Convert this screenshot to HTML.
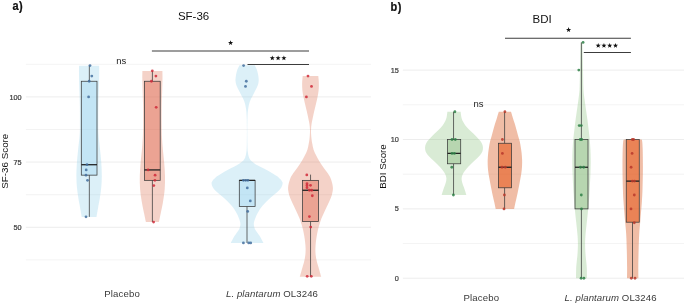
<!DOCTYPE html>
<html><head><meta charset="utf-8"><title>Figure</title>
<style>
html,body{margin:0;padding:0;background:#fff;}
svg{display:block;}
text{filter:grayscale(1);}
text{font-family:"Liberation Sans",sans-serif;}
.tick{font-size:7.3px;fill:#3d3d3d;stroke:#3d3d3d;stroke-width:0.22px;}
.title{font-size:11.5px;fill:#111;}
.tag{font-size:12.2px;font-weight:bold;fill:#111;stroke:#111;stroke-width:0.25px;letter-spacing:0.5px;}
.atitle{font-size:9.8px;fill:#111;}
.xl{font-size:9.6px;fill:#3a3a3a;letter-spacing:0.15px;}
.xl2{letter-spacing:0.1px;}
.ns{font-size:9.5px;fill:#222;}
.star{font-size:14.5px;fill:#111;}
</style></head><body>
<svg width="685" height="305" viewBox="0 0 685 305">
<rect width="685" height="305" fill="#fff"/>
<line x1="25.9" x2="370.9" y1="64.30" y2="64.30" stroke="#ebebeb" stroke-width="0.6"/>
<line x1="25.9" x2="370.9" y1="96.90" y2="96.90" stroke="#ebebeb" stroke-width="0.9"/>
<line x1="25.9" x2="370.9" y1="129.50" y2="129.50" stroke="#ebebeb" stroke-width="0.6"/>
<line x1="25.9" x2="370.9" y1="162.10" y2="162.10" stroke="#ebebeb" stroke-width="0.9"/>
<line x1="25.9" x2="370.9" y1="194.70" y2="194.70" stroke="#ebebeb" stroke-width="0.6"/>
<line x1="25.9" x2="370.9" y1="227.30" y2="227.30" stroke="#ebebeb" stroke-width="0.9"/>
<line x1="25.9" x2="370.9" y1="259.90" y2="259.90" stroke="#ebebeb" stroke-width="0.6"/>
<line x1="402.9" x2="684" y1="70.12" y2="70.12" stroke="#ebebeb" stroke-width="0.9"/>
<line x1="402.9" x2="684" y1="104.81" y2="104.81" stroke="#ebebeb" stroke-width="0.6"/>
<line x1="402.9" x2="684" y1="139.50" y2="139.50" stroke="#ebebeb" stroke-width="0.9"/>
<line x1="402.9" x2="684" y1="174.19" y2="174.19" stroke="#ebebeb" stroke-width="0.6"/>
<line x1="402.9" x2="684" y1="208.88" y2="208.88" stroke="#ebebeb" stroke-width="0.9"/>
<line x1="402.9" x2="684" y1="243.56" y2="243.56" stroke="#ebebeb" stroke-width="0.6"/>
<line x1="402.9" x2="684" y1="278.25" y2="278.25" stroke="#ebebeb" stroke-width="0.9"/>
<text x="21.7" y="99.50" text-anchor="end" class="tick">100</text>
<text x="21.7" y="164.70" text-anchor="end" class="tick">75</text>
<text x="21.7" y="229.90" text-anchor="end" class="tick">50</text>
<text x="398.8" y="72.72" text-anchor="end" class="tick">15</text>
<text x="398.8" y="142.10" text-anchor="end" class="tick">10</text>
<text x="398.8" y="211.47" text-anchor="end" class="tick">5</text>
<text x="398.8" y="280.85" text-anchor="end" class="tick">0</text>
<path d="M99.10,65.80 C99.12,66.83 99.22,68.80 99.20,72.00 C99.18,75.20 99.13,79.67 99.00,85.00 C98.87,90.33 98.52,98.17 98.40,104.00 C98.28,109.83 98.28,115.00 98.30,120.00 C98.32,125.00 98.20,129.00 98.50,134.00 C98.80,139.00 99.63,145.17 100.10,150.00 C100.57,154.83 101.02,158.67 101.30,163.00 C101.58,167.33 101.80,172.00 101.80,176.00 C101.80,180.00 101.60,183.50 101.30,187.00 C101.00,190.50 100.53,193.55 100.00,197.00 C99.47,200.45 98.68,204.38 98.10,207.70 C97.52,211.02 96.77,215.37 96.50,216.90 L81.70,216.90 C81.43,215.37 80.68,211.02 80.10,207.70 C79.52,204.38 78.73,200.45 78.20,197.00 C77.67,193.55 77.20,190.50 76.90,187.00 C76.60,183.50 76.40,180.00 76.40,176.00 C76.40,172.00 76.62,167.33 76.90,163.00 C77.18,158.67 77.63,154.83 78.10,150.00 C78.57,145.17 79.40,139.00 79.70,134.00 C80.00,129.00 79.88,125.00 79.90,120.00 C79.92,115.00 79.92,109.83 79.80,104.00 C79.68,98.17 79.33,90.33 79.20,85.00 C79.07,79.67 79.02,75.20 79.00,72.00 C78.98,68.80 79.08,66.83 79.10,65.80 Z" fill="#8acde8" fill-opacity="0.3"/>
<line x1="89.35" x2="89.35" y1="65.60" y2="81.25" stroke="#3a3a3a" stroke-width="0.75"/><line x1="89.35" x2="89.35" y1="175.14" y2="216.87" stroke="#3a3a3a" stroke-width="0.75"/><rect x="81.30" y="81.25" width="15.70" height="93.89" fill="#aadaf2" fill-opacity="0.5" stroke="#3a3a3a" stroke-width="0.75"/><line x1="81.30" x2="97.00" y1="164.71" y2="164.71" stroke="#222" stroke-width="1.3"/>
<circle cx="90.00" cy="65.60" r="1.4" fill="#44709f" fill-opacity="0.85"/><circle cx="91.80" cy="76.04" r="1.4" fill="#44709f" fill-opacity="0.85"/><circle cx="89.20" cy="81.25" r="1.4" fill="#44709f" fill-opacity="0.85"/><circle cx="88.60" cy="96.90" r="1.4" fill="#44709f" fill-opacity="0.85"/><circle cx="87.00" cy="164.71" r="1.4" fill="#44709f" fill-opacity="0.85"/><circle cx="86.20" cy="169.92" r="1.4" fill="#44709f" fill-opacity="0.85"/><circle cx="86.00" cy="175.14" r="1.4" fill="#44709f" fill-opacity="0.85"/><circle cx="87.50" cy="180.36" r="1.4" fill="#44709f" fill-opacity="0.85"/><circle cx="86.00" cy="216.87" r="1.4" fill="#44709f" fill-opacity="0.85"/>
<path d="M162.40,70.90 C162.42,72.08 162.53,74.82 162.50,78.00 C162.47,81.18 162.33,85.17 162.20,90.00 C162.07,94.83 161.78,101.17 161.70,107.00 C161.62,112.83 161.65,119.83 161.70,125.00 C161.75,130.17 161.80,133.83 162.00,138.00 C162.20,142.17 162.53,145.83 162.90,150.00 C163.27,154.17 163.85,158.67 164.20,163.00 C164.55,167.33 164.92,171.67 165.00,176.00 C165.08,180.33 165.05,184.58 164.70,189.00 C164.35,193.42 163.55,198.50 162.90,202.50 C162.25,206.50 161.47,209.73 160.80,213.00 C160.13,216.27 159.22,220.58 158.90,222.10 L145.90,222.10 C145.58,220.58 144.67,216.27 144.00,213.00 C143.33,209.73 142.55,206.50 141.90,202.50 C141.25,198.50 140.45,193.42 140.10,189.00 C139.75,184.58 139.72,180.33 139.80,176.00 C139.88,171.67 140.25,167.33 140.60,163.00 C140.95,158.67 141.53,154.17 141.90,150.00 C142.27,145.83 142.60,142.17 142.80,138.00 C143.00,133.83 143.05,130.17 143.10,125.00 C143.15,119.83 143.18,112.83 143.10,107.00 C143.02,101.17 142.73,94.83 142.60,90.00 C142.47,85.17 142.33,81.18 142.30,78.00 C142.27,74.82 142.38,72.08 142.40,70.90 Z" fill="#da6948" fill-opacity="0.3"/>
<line x1="152.40" x2="152.40" y1="70.82" y2="81.25" stroke="#3a3a3a" stroke-width="0.75"/><line x1="152.40" x2="152.40" y1="180.36" y2="222.08" stroke="#3a3a3a" stroke-width="0.75"/><rect x="144.40" y="81.25" width="15.80" height="99.10" fill="#e2745e" fill-opacity="0.5" stroke="#3a3a3a" stroke-width="0.75"/><line x1="144.40" x2="160.20" y1="169.92" y2="169.92" stroke="#222" stroke-width="1.3"/>
<circle cx="152.30" cy="70.82" r="1.4" fill="#d02a3a" fill-opacity="0.85"/><circle cx="155.90" cy="76.04" r="1.4" fill="#d02a3a" fill-opacity="0.85"/><circle cx="151.40" cy="81.25" r="1.4" fill="#d02a3a" fill-opacity="0.85"/><circle cx="156.20" cy="107.33" r="1.4" fill="#d02a3a" fill-opacity="0.85"/><circle cx="148.10" cy="169.92" r="1.4" fill="#d02a3a" fill-opacity="0.85"/><circle cx="155.10" cy="175.14" r="1.4" fill="#d02a3a" fill-opacity="0.85"/><circle cx="154.90" cy="180.36" r="1.4" fill="#d02a3a" fill-opacity="0.85"/><circle cx="153.80" cy="185.57" r="1.4" fill="#d02a3a" fill-opacity="0.85"/><circle cx="153.60" cy="222.08" r="1.4" fill="#d02a3a" fill-opacity="0.85"/>
<path d="M254.70,65.30 C255.07,66.05 256.30,68.07 256.90,69.80 C257.50,71.53 258.00,73.88 258.30,75.70 C258.60,77.52 258.80,79.05 258.70,80.70 C258.60,82.35 258.27,83.97 257.70,85.60 C257.13,87.23 256.12,88.87 255.30,90.50 C254.48,92.13 253.57,93.92 252.80,95.40 C252.03,96.88 251.28,98.08 250.70,99.40 C250.12,100.72 249.73,101.67 249.30,103.30 C248.87,104.93 248.40,106.92 248.10,109.20 C247.80,111.48 247.63,113.53 247.50,117.00 C247.37,120.47 247.32,125.50 247.30,130.00 C247.28,134.50 247.32,140.37 247.40,144.00 C247.48,147.63 247.52,149.52 247.80,151.80 C248.08,154.08 248.40,156.07 249.10,157.70 C249.80,159.33 250.53,160.28 252.00,161.60 C253.47,162.92 255.60,164.28 257.90,165.60 C260.20,166.92 263.33,168.18 265.80,169.50 C268.27,170.82 270.57,172.18 272.70,173.50 C274.83,174.82 276.97,175.93 278.60,177.40 C280.23,178.87 282.05,180.62 282.50,182.30 C282.95,183.98 282.07,185.95 281.30,187.50 C280.53,189.05 279.27,190.25 277.90,191.60 C276.53,192.95 274.65,194.28 273.10,195.60 C271.55,196.92 270.02,198.18 268.60,199.50 C267.18,200.82 265.85,202.18 264.60,203.50 C263.35,204.82 262.08,206.10 261.10,207.40 C260.12,208.70 259.60,209.67 258.70,211.30 C257.80,212.93 256.52,215.17 255.70,217.20 C254.88,219.23 253.93,221.53 253.80,223.50 C253.67,225.47 254.27,227.42 254.90,229.00 C255.53,230.58 256.70,231.67 257.60,233.00 C258.50,234.33 259.33,235.35 260.30,237.00 C261.27,238.65 262.88,241.92 263.40,242.90 L230.80,242.90 C231.32,241.92 232.93,238.65 233.90,237.00 C234.87,235.35 235.70,234.33 236.60,233.00 C237.50,231.67 238.67,230.58 239.30,229.00 C239.93,227.42 240.53,225.47 240.40,223.50 C240.27,221.53 239.32,219.23 238.50,217.20 C237.68,215.17 236.40,212.93 235.50,211.30 C234.60,209.67 234.08,208.70 233.10,207.40 C232.12,206.10 230.85,204.82 229.60,203.50 C228.35,202.18 227.02,200.82 225.60,199.50 C224.18,198.18 222.65,196.92 221.10,195.60 C219.55,194.28 217.67,192.95 216.30,191.60 C214.93,190.25 213.67,189.05 212.90,187.50 C212.13,185.95 211.25,183.98 211.70,182.30 C212.15,180.62 213.97,178.87 215.60,177.40 C217.23,175.93 219.37,174.82 221.50,173.50 C223.63,172.18 225.93,170.82 228.40,169.50 C230.87,168.18 234.00,166.92 236.30,165.60 C238.60,164.28 240.73,162.92 242.20,161.60 C243.67,160.28 244.40,159.33 245.10,157.70 C245.80,156.07 246.12,154.08 246.40,151.80 C246.68,149.52 246.72,147.63 246.80,144.00 C246.88,140.37 246.92,134.50 246.90,130.00 C246.88,125.50 246.83,120.47 246.70,117.00 C246.57,113.53 246.40,111.48 246.10,109.20 C245.80,106.92 245.33,104.93 244.90,103.30 C244.47,101.67 244.08,100.72 243.50,99.40 C242.92,98.08 242.17,96.88 241.40,95.40 C240.63,93.92 239.72,92.13 238.90,90.50 C238.08,88.87 237.07,87.23 236.50,85.60 C235.93,83.97 235.60,82.35 235.50,80.70 C235.40,79.05 235.60,77.52 235.90,75.70 C236.20,73.88 236.70,71.53 237.30,69.80 C237.90,68.07 239.13,66.05 239.50,65.30 Z" fill="#8acde8" fill-opacity="0.3"/>
<line x1="247.00" x2="247.00" y1="180.36" y2="180.36" stroke="#3a3a3a" stroke-width="0.75"/><line x1="247.00" x2="247.00" y1="206.44" y2="242.95" stroke="#3a3a3a" stroke-width="0.75"/><rect x="239.30" y="180.36" width="15.80" height="26.08" fill="#aadaf2" fill-opacity="0.5" stroke="#3a3a3a" stroke-width="0.75"/><line x1="239.30" x2="255.10" y1="180.36" y2="180.36" stroke="#222" stroke-width="1.3"/>
<circle cx="243.60" cy="65.60" r="1.4" fill="#44709f" fill-opacity="0.85"/><circle cx="246.30" cy="81.25" r="1.4" fill="#44709f" fill-opacity="0.85"/><circle cx="245.50" cy="86.47" r="1.4" fill="#44709f" fill-opacity="0.85"/><circle cx="243.40" cy="180.36" r="1.4" fill="#44709f" fill-opacity="0.85"/><circle cx="245.70" cy="180.36" r="1.4" fill="#44709f" fill-opacity="0.85"/><circle cx="247.90" cy="180.36" r="1.4" fill="#44709f" fill-opacity="0.85"/><circle cx="247.30" cy="187.92" r="1.4" fill="#44709f" fill-opacity="0.85"/><circle cx="250.30" cy="200.96" r="1.4" fill="#44709f" fill-opacity="0.85"/><circle cx="247.70" cy="211.39" r="1.4" fill="#44709f" fill-opacity="0.85"/><circle cx="243.40" cy="242.95" r="1.4" fill="#44709f" fill-opacity="0.85"/><circle cx="248.70" cy="242.95" r="1.4" fill="#44709f" fill-opacity="0.85"/><circle cx="250.70" cy="242.95" r="1.4" fill="#44709f" fill-opacity="0.85"/>
<path d="M318.30,75.90 C318.38,76.88 318.72,79.83 318.80,81.80 C318.88,83.77 318.90,85.73 318.80,87.70 C318.70,89.67 318.50,91.63 318.20,93.60 C317.90,95.57 317.43,97.53 317.00,99.50 C316.57,101.47 316.07,103.43 315.60,105.40 C315.13,107.37 314.65,109.33 314.20,111.30 C313.75,113.27 313.32,115.23 312.90,117.20 C312.48,119.17 312.02,120.97 311.70,123.10 C311.38,125.23 311.05,127.53 311.00,130.00 C310.95,132.47 311.18,135.60 311.40,137.90 C311.62,140.20 311.93,141.83 312.30,143.80 C312.67,145.77 312.95,147.73 313.60,149.70 C314.25,151.67 315.22,153.63 316.20,155.60 C317.18,157.57 318.28,159.53 319.50,161.50 C320.72,163.47 322.12,165.43 323.50,167.40 C324.88,169.37 326.55,171.33 327.80,173.30 C329.05,175.27 330.15,176.83 331.00,179.20 C331.85,181.57 332.75,184.92 332.90,187.50 C333.05,190.08 332.43,192.52 331.90,194.70 C331.37,196.88 330.53,198.63 329.70,200.60 C328.87,202.57 327.83,204.53 326.90,206.50 C325.97,208.47 325.00,210.43 324.10,212.40 C323.20,214.37 322.27,216.33 321.50,218.30 C320.73,220.27 320.12,222.17 319.50,224.20 C318.88,226.23 318.28,228.40 317.80,230.50 C317.32,232.60 316.93,234.77 316.60,236.80 C316.27,238.83 316.00,240.73 315.80,242.70 C315.60,244.67 315.43,246.63 315.40,248.60 C315.37,250.57 315.40,252.53 315.60,254.50 C315.80,256.47 316.17,258.43 316.60,260.40 C317.03,262.37 317.65,264.33 318.20,266.30 C318.75,268.27 319.40,270.45 319.90,272.20 C320.40,273.95 320.98,276.03 321.20,276.80 L299.80,276.80 C300.02,276.03 300.60,273.95 301.10,272.20 C301.60,270.45 302.25,268.27 302.80,266.30 C303.35,264.33 303.97,262.37 304.40,260.40 C304.83,258.43 305.20,256.47 305.40,254.50 C305.60,252.53 305.63,250.57 305.60,248.60 C305.57,246.63 305.40,244.67 305.20,242.70 C305.00,240.73 304.73,238.83 304.40,236.80 C304.07,234.77 303.68,232.60 303.20,230.50 C302.72,228.40 302.12,226.23 301.50,224.20 C300.88,222.17 300.27,220.27 299.50,218.30 C298.73,216.33 297.80,214.37 296.90,212.40 C296.00,210.43 295.03,208.47 294.10,206.50 C293.17,204.53 292.13,202.57 291.30,200.60 C290.47,198.63 289.63,196.88 289.10,194.70 C288.57,192.52 287.95,190.08 288.10,187.50 C288.25,184.92 289.15,181.57 290.00,179.20 C290.85,176.83 291.95,175.27 293.20,173.30 C294.45,171.33 296.12,169.37 297.50,167.40 C298.88,165.43 300.28,163.47 301.50,161.50 C302.72,159.53 303.82,157.57 304.80,155.60 C305.78,153.63 306.75,151.67 307.40,149.70 C308.05,147.73 308.33,145.77 308.70,143.80 C309.07,141.83 309.38,140.20 309.60,137.90 C309.82,135.60 310.05,132.47 310.00,130.00 C309.95,127.53 309.62,125.23 309.30,123.10 C308.98,120.97 308.52,119.17 308.10,117.20 C307.68,115.23 307.25,113.27 306.80,111.30 C306.35,109.33 305.87,107.37 305.40,105.40 C304.93,103.43 304.43,101.47 304.00,99.50 C303.57,97.53 303.10,95.57 302.80,93.60 C302.50,91.63 302.30,89.67 302.20,87.70 C302.10,85.73 302.12,83.77 302.20,81.80 C302.28,79.83 302.62,76.88 302.70,75.90 Z" fill="#da6948" fill-opacity="0.3"/>
<line x1="310.55" x2="310.55" y1="174.62" y2="180.36" stroke="#3a3a3a" stroke-width="0.75"/><line x1="310.55" x2="310.55" y1="221.56" y2="276.59" stroke="#3a3a3a" stroke-width="0.75"/><rect x="302.50" y="180.36" width="16.00" height="41.21" fill="#e2745e" fill-opacity="0.5" stroke="#3a3a3a" stroke-width="0.75"/><line x1="302.50" x2="318.50" y1="190.27" y2="190.27" stroke="#222" stroke-width="1.3"/>
<circle cx="308.00" cy="76.04" r="1.4" fill="#d02a3a" fill-opacity="0.85"/><circle cx="311.50" cy="86.47" r="1.4" fill="#d02a3a" fill-opacity="0.85"/><circle cx="306.40" cy="96.90" r="1.4" fill="#d02a3a" fill-opacity="0.85"/><circle cx="306.80" cy="174.88" r="1.4" fill="#d02a3a" fill-opacity="0.85"/><circle cx="307.00" cy="183.75" r="1.4" fill="#d02a3a" fill-opacity="0.85"/><circle cx="307.00" cy="185.57" r="1.4" fill="#d02a3a" fill-opacity="0.85"/><circle cx="307.00" cy="187.66" r="1.4" fill="#d02a3a" fill-opacity="0.85"/><circle cx="310.50" cy="185.31" r="1.4" fill="#d02a3a" fill-opacity="0.85"/><circle cx="309.40" cy="190.27" r="1.4" fill="#d02a3a" fill-opacity="0.85"/><circle cx="311.70" cy="190.27" r="1.4" fill="#d02a3a" fill-opacity="0.85"/><circle cx="312.30" cy="195.74" r="1.4" fill="#d02a3a" fill-opacity="0.85"/><circle cx="309.40" cy="216.61" r="1.4" fill="#d02a3a" fill-opacity="0.85"/><circle cx="310.70" cy="227.04" r="1.4" fill="#d02a3a" fill-opacity="0.85"/><circle cx="307.20" cy="276.33" r="1.4" fill="#d02a3a" fill-opacity="0.85"/><circle cx="311.30" cy="276.33" r="1.4" fill="#d02a3a" fill-opacity="0.85"/>
<path d="M460.60,111.75 C460.75,112.74 461.10,116.06 461.50,117.70 C461.90,119.34 462.35,120.28 463.00,121.60 C463.65,122.92 464.40,124.28 465.40,125.60 C466.40,126.92 467.68,128.18 469.00,129.50 C470.32,130.82 471.93,132.18 473.30,133.50 C474.67,134.82 475.98,136.10 477.20,137.40 C478.42,138.70 479.70,139.98 480.60,141.30 C481.50,142.62 482.22,143.98 482.60,145.30 C482.98,146.62 483.07,147.92 482.90,149.20 C482.73,150.48 482.32,151.73 481.60,153.00 C480.88,154.27 479.67,155.63 478.60,156.80 C477.53,157.97 476.30,158.97 475.20,160.00 C474.10,161.03 473.12,161.90 472.00,163.00 C470.88,164.10 469.65,165.33 468.50,166.60 C467.35,167.87 466.08,169.28 465.10,170.60 C464.12,171.92 463.18,173.18 462.60,174.50 C462.02,175.82 461.67,177.18 461.60,178.50 C461.53,179.82 461.88,181.10 462.20,182.40 C462.52,183.70 463.05,184.98 463.50,186.30 C463.95,187.62 464.43,188.85 464.90,190.30 C465.37,191.75 466.07,194.22 466.30,195.00 L441.70,195.00 C441.93,194.22 442.63,191.75 443.10,190.30 C443.57,188.85 444.05,187.62 444.50,186.30 C444.95,184.98 445.48,183.70 445.80,182.40 C446.12,181.10 446.47,179.82 446.40,178.50 C446.33,177.18 445.98,175.82 445.40,174.50 C444.82,173.18 443.88,171.92 442.90,170.60 C441.92,169.28 440.65,167.87 439.50,166.60 C438.35,165.33 437.12,164.10 436.00,163.00 C434.88,161.90 433.90,161.03 432.80,160.00 C431.70,158.97 430.47,157.97 429.40,156.80 C428.33,155.63 427.12,154.27 426.40,153.00 C425.68,151.73 425.27,150.48 425.10,149.20 C424.93,147.92 425.02,146.62 425.40,145.30 C425.78,143.98 426.50,142.62 427.40,141.30 C428.30,139.98 429.58,138.70 430.80,137.40 C432.02,136.10 433.33,134.82 434.70,133.50 C436.07,132.18 437.68,130.82 439.00,129.50 C440.32,128.18 441.60,126.92 442.60,125.60 C443.60,124.28 444.35,122.92 445.00,121.60 C445.65,120.28 446.10,119.34 446.50,117.70 C446.90,116.06 447.25,112.74 447.40,111.75 Z" fill="#80bc73" fill-opacity="0.3"/>
<line x1="453.55" x2="453.55" y1="111.75" y2="139.50" stroke="#3a3a3a" stroke-width="0.75"/><line x1="453.55" x2="453.55" y1="163.78" y2="195.00" stroke="#3a3a3a" stroke-width="0.75"/><rect x="447.50" y="139.50" width="13.20" height="24.28" fill="#95c18b" fill-opacity="0.5" stroke="#3a3a3a" stroke-width="0.75"/><line x1="447.50" x2="460.70" y1="153.38" y2="153.38" stroke="#222" stroke-width="1.3"/>
<circle cx="454.90" cy="111.75" r="1.4" fill="#2e8046" fill-opacity="0.85"/><circle cx="452.00" cy="139.50" r="1.4" fill="#2e8046" fill-opacity="0.85"/><circle cx="455.30" cy="139.50" r="1.4" fill="#2e8046" fill-opacity="0.85"/><circle cx="452.00" cy="153.38" r="1.4" fill="#2e8046" fill-opacity="0.85"/><circle cx="454.40" cy="153.38" r="1.4" fill="#2e8046" fill-opacity="0.85"/><circle cx="451.80" cy="167.25" r="1.4" fill="#2e8046" fill-opacity="0.85"/><circle cx="453.40" cy="195.00" r="1.4" fill="#2e8046" fill-opacity="0.85"/>
<path d="M511.00,111.75 C511.30,112.74 512.18,115.73 512.80,117.70 C513.42,119.67 514.10,121.63 514.70,123.60 C515.30,125.57 515.85,127.53 516.40,129.50 C516.95,131.47 517.45,133.43 518.00,135.40 C518.55,137.37 519.23,139.33 519.70,141.30 C520.17,143.27 520.48,145.23 520.80,147.20 C521.12,149.17 521.38,150.97 521.60,153.10 C521.82,155.23 522.03,157.72 522.10,160.00 C522.17,162.28 522.12,164.68 522.00,166.80 C521.88,168.92 521.67,170.73 521.40,172.70 C521.13,174.67 520.75,176.63 520.40,178.60 C520.05,180.57 519.68,182.53 519.30,184.50 C518.92,186.47 518.50,188.43 518.10,190.40 C517.70,192.37 517.33,194.33 516.90,196.30 C516.47,198.27 515.97,200.10 515.50,202.20 C515.03,204.30 514.33,207.76 514.10,208.88 L495.70,208.88 C495.47,207.76 494.77,204.30 494.30,202.20 C493.83,200.10 493.33,198.27 492.90,196.30 C492.47,194.33 492.10,192.37 491.70,190.40 C491.30,188.43 490.88,186.47 490.50,184.50 C490.12,182.53 489.75,180.57 489.40,178.60 C489.05,176.63 488.67,174.67 488.40,172.70 C488.13,170.73 487.92,168.92 487.80,166.80 C487.68,164.68 487.63,162.28 487.70,160.00 C487.77,157.72 487.98,155.23 488.20,153.10 C488.42,150.97 488.68,149.17 489.00,147.20 C489.32,145.23 489.63,143.27 490.10,141.30 C490.57,139.33 491.25,137.37 491.80,135.40 C492.35,133.43 492.85,131.47 493.40,129.50 C493.95,127.53 494.50,125.57 495.10,123.60 C495.70,121.63 496.38,119.67 497.00,117.70 C497.62,115.73 498.50,112.74 498.80,111.75 Z" fill="#e17b4d" fill-opacity="0.5"/>
<line x1="504.60" x2="504.60" y1="111.75" y2="143.25" stroke="#3a3a3a" stroke-width="0.75"/><line x1="504.60" x2="504.60" y1="187.79" y2="208.88" stroke="#3a3a3a" stroke-width="0.75"/><rect x="498.40" y="143.25" width="13.10" height="44.54" fill="#e44906" fill-opacity="0.5" stroke="#3a3a3a" stroke-width="0.75"/><line x1="498.40" x2="511.50" y1="167.25" y2="167.25" stroke="#222" stroke-width="1.3"/>
<circle cx="504.90" cy="111.75" r="1.4" fill="#b8382c" fill-opacity="0.85"/><circle cx="502.40" cy="139.50" r="1.4" fill="#b8382c" fill-opacity="0.85"/><circle cx="502.40" cy="153.38" r="1.4" fill="#b8382c" fill-opacity="0.85"/><circle cx="502.00" cy="167.25" r="1.4" fill="#b8382c" fill-opacity="0.85"/><circle cx="505.30" cy="167.25" r="1.4" fill="#b8382c" fill-opacity="0.85"/><circle cx="504.40" cy="195.00" r="1.4" fill="#b8382c" fill-opacity="0.85"/><circle cx="504.00" cy="208.88" r="1.4" fill="#b8382c" fill-opacity="0.85"/>
<path d="M582.40,42.38 C582.47,45.31 582.68,54.56 582.80,60.00 C582.92,65.44 582.98,70.00 583.10,75.00 C583.22,80.00 583.25,85.87 583.50,90.00 C583.75,94.13 584.18,96.52 584.60,99.80 C585.02,103.08 585.53,106.42 586.00,109.70 C586.47,112.98 586.97,116.22 587.40,119.50 C587.83,122.78 588.22,126.12 588.60,129.40 C588.98,132.68 589.40,135.93 589.70,139.20 C590.00,142.47 590.23,145.42 590.40,149.00 C590.57,152.58 590.70,156.45 590.70,160.70 C590.70,164.95 590.62,168.92 590.40,174.50 C590.18,180.08 589.77,188.47 589.40,194.20 C589.03,199.93 588.63,204.22 588.20,208.90 C587.77,213.58 587.27,217.75 586.80,222.30 C586.33,226.85 585.68,232.42 585.40,236.20 C585.12,239.98 585.08,242.03 585.10,245.00 C585.12,247.97 585.32,251.33 585.50,254.00 C585.68,256.67 585.98,258.67 586.20,261.00 C586.42,263.33 586.67,265.12 586.80,268.00 C586.93,270.88 586.97,276.54 587.00,278.25 L576.00,278.25 C576.03,276.54 576.07,270.88 576.20,268.00 C576.33,265.12 576.58,263.33 576.80,261.00 C577.02,258.67 577.32,256.67 577.50,254.00 C577.68,251.33 577.88,247.97 577.90,245.00 C577.92,242.03 577.88,239.98 577.60,236.20 C577.32,232.42 576.67,226.85 576.20,222.30 C575.73,217.75 575.23,213.58 574.80,208.90 C574.37,204.22 573.97,199.93 573.60,194.20 C573.23,188.47 572.82,180.08 572.60,174.50 C572.38,168.92 572.30,164.95 572.30,160.70 C572.30,156.45 572.43,152.58 572.60,149.00 C572.77,145.42 573.00,142.47 573.30,139.20 C573.60,135.93 574.02,132.68 574.40,129.40 C574.78,126.12 575.17,122.78 575.60,119.50 C576.03,116.22 576.53,112.98 577.00,109.70 C577.47,106.42 577.98,103.08 578.40,99.80 C578.82,96.52 579.25,94.13 579.50,90.00 C579.75,85.87 579.78,80.00 579.90,75.00 C580.02,70.00 580.08,65.44 580.20,60.00 C580.32,54.56 580.53,45.31 580.60,42.38 Z" fill="#80bc73" fill-opacity="0.3"/>
<line x1="581.40" x2="581.40" y1="42.38" y2="139.50" stroke="#3a3a3a" stroke-width="0.75"/><line x1="581.40" x2="581.40" y1="208.88" y2="278.25" stroke="#3a3a3a" stroke-width="0.75"/><rect x="575.00" y="139.50" width="13.00" height="69.38" fill="#95c18b" fill-opacity="0.5" stroke="#3a3a3a" stroke-width="0.75"/><line x1="575.00" x2="588.00" y1="167.25" y2="167.25" stroke="#222" stroke-width="1.3"/>
<circle cx="583.10" cy="42.38" r="1.4" fill="#2e8046" fill-opacity="0.85"/><circle cx="578.80" cy="70.12" r="1.4" fill="#2e8046" fill-opacity="0.85"/><circle cx="579.20" cy="125.62" r="1.4" fill="#2e8046" fill-opacity="0.85"/><circle cx="581.30" cy="125.62" r="1.4" fill="#2e8046" fill-opacity="0.85"/><circle cx="580.30" cy="139.50" r="1.4" fill="#2e8046" fill-opacity="0.85"/><circle cx="581.70" cy="139.50" r="1.4" fill="#2e8046" fill-opacity="0.85"/><circle cx="580.50" cy="167.25" r="1.4" fill="#2e8046" fill-opacity="0.85"/><circle cx="583.70" cy="167.25" r="1.4" fill="#2e8046" fill-opacity="0.85"/><circle cx="581.30" cy="195.00" r="1.4" fill="#2e8046" fill-opacity="0.85"/><circle cx="581.50" cy="208.88" r="1.4" fill="#2e8046" fill-opacity="0.85"/><circle cx="581.10" cy="278.25" r="1.4" fill="#2e8046" fill-opacity="0.85"/><circle cx="583.90" cy="278.25" r="1.4" fill="#2e8046" fill-opacity="0.85"/>
<path d="M641.60,139.50 C641.70,139.83 642.02,139.80 642.20,141.50 C642.38,143.20 642.58,145.05 642.70,149.70 C642.82,154.35 642.93,162.85 642.90,169.40 C642.87,175.95 642.67,183.67 642.50,189.00 C642.33,194.33 642.27,196.05 641.90,201.40 C641.53,206.75 640.75,215.63 640.30,221.10 C639.85,226.57 639.48,229.28 639.20,234.20 C638.92,239.12 638.75,245.13 638.60,250.60 C638.45,256.07 638.33,262.39 638.30,267.00 C638.27,271.61 638.38,276.38 638.40,278.25 L627.00,278.25 C627.02,276.38 627.13,271.61 627.10,267.00 C627.07,262.39 626.95,256.07 626.80,250.60 C626.65,245.13 626.48,239.12 626.20,234.20 C625.92,229.28 625.55,226.57 625.10,221.10 C624.65,215.63 623.87,206.75 623.50,201.40 C623.13,196.05 623.07,194.33 622.90,189.00 C622.73,183.67 622.53,175.95 622.50,169.40 C622.47,162.85 622.58,154.35 622.70,149.70 C622.82,145.05 623.02,143.20 623.20,141.50 C623.38,139.80 623.70,139.83 623.80,139.50 Z" fill="#e17b4d" fill-opacity="0.5"/>
<line x1="632.50" x2="632.50" y1="139.50" y2="139.50" stroke="#3a3a3a" stroke-width="0.75"/><line x1="632.50" x2="632.50" y1="222.19" y2="278.25" stroke="#3a3a3a" stroke-width="0.75"/><rect x="626.25" y="139.50" width="13.00" height="82.69" fill="#e44906" fill-opacity="0.5" stroke="#3a3a3a" stroke-width="0.75"/><line x1="626.25" x2="639.25" y1="181.12" y2="181.12" stroke="#222" stroke-width="1.3"/>
<circle cx="632.30" cy="139.50" r="1.4" fill="#b8382c" fill-opacity="0.85"/><circle cx="633.60" cy="139.50" r="1.4" fill="#b8382c" fill-opacity="0.85"/><circle cx="632.10" cy="153.38" r="1.4" fill="#b8382c" fill-opacity="0.85"/><circle cx="631.10" cy="167.25" r="1.4" fill="#b8382c" fill-opacity="0.85"/><circle cx="632.30" cy="181.12" r="1.4" fill="#b8382c" fill-opacity="0.85"/><circle cx="634.50" cy="181.12" r="1.4" fill="#b8382c" fill-opacity="0.85"/><circle cx="634.30" cy="195.00" r="1.4" fill="#b8382c" fill-opacity="0.85"/><circle cx="631.00" cy="208.88" r="1.4" fill="#b8382c" fill-opacity="0.85"/><circle cx="634.30" cy="222.75" r="1.4" fill="#b8382c" fill-opacity="0.85"/><circle cx="631.30" cy="278.25" r="1.4" fill="#b8382c" fill-opacity="0.85"/><circle cx="635.00" cy="278.25" r="1.4" fill="#b8382c" fill-opacity="0.85"/>
<line x1="151.9" x2="309" y1="50.95" y2="50.95" stroke="#3c3c3c" stroke-width="1.05"/>
<line x1="247.5" x2="309" y1="64.5" y2="64.5" stroke="#3c3c3c" stroke-width="1.05"/>
<line x1="505" x2="630.9" y1="38.3" y2="38.3" stroke="#3c3c3c" stroke-width="1.05"/>
<line x1="583.8" x2="630.9" y1="52.45" y2="52.45" stroke="#3c3c3c" stroke-width="1.05"/>
<polygon points="230.60,40.20 231.25,42.01 233.17,42.07 231.65,43.24 232.19,45.08 230.60,44.00 229.01,45.08 229.55,43.24 228.03,42.07 229.95,42.01" fill="#111"/>
<polygon points="272.30,55.40 272.95,57.21 274.87,57.27 273.35,58.44 273.89,60.28 272.30,59.20 270.71,60.28 271.25,58.44 269.73,57.27 271.65,57.21" fill="#111"/>
<polygon points="278.10,55.40 278.75,57.21 280.67,57.27 279.15,58.44 279.69,60.28 278.10,59.20 276.51,60.28 277.05,58.44 275.53,57.27 277.45,57.21" fill="#111"/>
<polygon points="283.90,55.40 284.55,57.21 286.47,57.27 284.95,58.44 285.49,60.28 283.90,59.20 282.31,60.28 282.85,58.44 281.33,57.27 283.25,57.21" fill="#111"/>
<polygon points="568.60,27.10 569.25,28.91 571.17,28.97 569.65,30.14 570.19,31.98 568.60,30.90 567.01,31.98 567.55,30.14 566.03,28.97 567.95,28.91" fill="#111"/>
<polygon points="598.20,42.90 598.85,44.71 600.77,44.77 599.25,45.94 599.79,47.78 598.20,46.70 596.61,47.78 597.15,45.94 595.63,44.77 597.55,44.71" fill="#111"/>
<polygon points="603.95,42.90 604.60,44.71 606.52,44.77 605.00,45.94 605.54,47.78 603.95,46.70 602.36,47.78 602.90,45.94 601.38,44.77 603.30,44.71" fill="#111"/>
<polygon points="609.70,42.90 610.35,44.71 612.27,44.77 610.75,45.94 611.29,47.78 609.70,46.70 608.11,47.78 608.65,45.94 607.13,44.77 609.05,44.71" fill="#111"/>
<polygon points="615.50,42.90 616.15,44.71 618.07,44.77 616.55,45.94 617.09,47.78 615.50,46.70 613.91,47.78 614.45,45.94 612.93,44.77 614.85,44.71" fill="#111"/>
<text x="121.3" y="64" text-anchor="middle" class="ns">ns</text>
<text x="478.5" y="106.8" text-anchor="middle" class="ns">ns</text>
<text x="193.6" y="19.7" text-anchor="middle" class="title">SF-36</text>
<text x="542.2" y="23.2" text-anchor="middle" class="title">BDI</text>
<text transform="translate(12.5,9.85) scale(0.9,1)" class="tag">a)</text>
<text transform="translate(390.5,10.8) scale(0.9,1)" class="tag">b)</text>
<text transform="translate(7.8,161.2) rotate(-90)" text-anchor="middle" class="atitle">SF-36 Score</text>
<text transform="translate(386.4,166.5) rotate(-90)" text-anchor="middle" class="atitle">BDI Score</text>
<text x="122.1" y="296.8" text-anchor="middle" class="xl">Placebo</text>
<text x="272" y="296.8" text-anchor="middle" class="xl xl2"><tspan font-style="italic">L. plantarum</tspan> OL3246</text>
<text x="481.4" y="301.1" text-anchor="middle" class="xl">Placebo</text>
<text x="610.6" y="301.1" text-anchor="middle" class="xl xl2"><tspan font-style="italic">L. plantarum</tspan> OL3246</text>
</svg>
</body></html>
